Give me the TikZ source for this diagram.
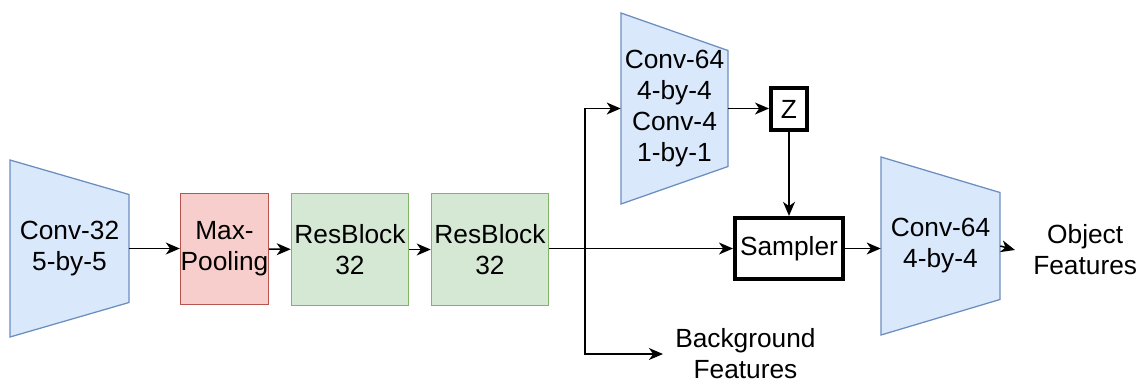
\documentclass[tikz,border=0pt]{standalone}
\usepackage{fontspec}
\setmainfont{Liberation Sans}
\usepackage{tikz}
\usetikzlibrary{arrows.meta}
\definecolor{convfill}{HTML}{DAE8FC}
\definecolor{convline}{HTML}{6C8EBF}
\definecolor{poolfill}{HTML}{F8CECC}
\definecolor{poolline}{HTML}{B85450}
\definecolor{resfill}{HTML}{D5E8D4}
\definecolor{resline}{HTML}{82B366}
\tikzset{
    flow/.style={line width=1.1pt, -{Stealth[length=10pt, width=8.5pt, inset=3pt]}},
    txt/.style={align=center, font=\fontsize{18.7}{22}\selectfont},
    layer/.style={txt, draw, line width=0.9pt, inner sep=0pt},
    heavy/.style={txt, draw, line width=2.8pt, inner sep=0pt},
}
% funnel: name, centre, half width, left and right half heights, text
\def\Funnel(#1) at (#2, #3) size (#4, #5, #6) #7; {
    \draw[convline, fill=convfill, line width=0.9pt] (#2 - #4, #3 - #5) -- (#2 + #4, #3 - #6)
        -- (#2 + #4, #3 + #6) -- (#2 - #4, #3 + #5) -- cycle;
    \node[txt, inner sep=0pt, minimum width={2*#4*0.025cm}, minimum height={2*#6*0.025cm}] (#1) at (#2, #3) {#7};
}

\begin{document}
\begin{tikzpicture}[x=0.025cm, y=-0.025cm]
    \useasboundingbox (0, 0) rectangle (1140, 383);

    \Funnel(conv32) at (69.5, 248.5) size (59.5, 88.5, 54) {Conv-32\\5-by-5};
    \node[layer, draw=poolline, fill=poolfill, minimum width=2.2cm, minimum height=2.78cm] (pool) at (224.5, 249) {Max-\\Pooling};
    \node[layer, draw=resline, fill=resfill, minimum width=2.93cm, minimum height=2.8cm] (res1) at (350, 249.5) {ResBlock\\32};
    \node[layer, draw=resline, fill=resfill, minimum width=2.93cm, minimum height=2.8cm] (res2) at (490, 249.5) {ResBlock\\32};

    \Funnel(enc) at (674.5, 108.5) size (53.5, 95.5, 58) {Conv-64\\4-by-4\\Conv-4\\1-by-1};
    \node[heavy, minimum width=0.9cm, minimum height=1.05cm] (z) at (789, 109) {Z};
    \node[heavy, minimum width=2.7cm, minimum height=1.53cm] (sampler) at (789, 248.5) {Sampler};
    \Funnel(dec) at (940.5, 246) size (59.5, 89, 53.5) {Conv-64\\4-by-4};

    \node[txt, anchor=west, inner xsep=0.45cm] (obj) at (1015, 250) {Object\\Features};
    \node[txt, anchor=west, inner xsep=0.3cm] (bg) at (663, 354) {Background\\Features};
    \coordinate (split) at (585, 249);

    \draw[flow] (conv32.east) -- (conv32.east -| pool.west);
    \draw[flow] (pool) -- (res1);
    \draw[flow] (res1) -- (res2);
    \draw[flow] (res2.east |- sampler.west) -- (sampler.west);
    \draw[flow] (split) |- (enc.west);
    \draw[flow] (split) |- (bg.west);
    \draw[flow] (enc.east) -- (enc.east -| z.west);
    \draw[flow] (z) -- (sampler);
    \draw[flow] (sampler.east) -- (sampler.east -| dec.west);
    \draw[flow] (dec.east) -- (obj.west);
\end{tikzpicture}
\end{document}
